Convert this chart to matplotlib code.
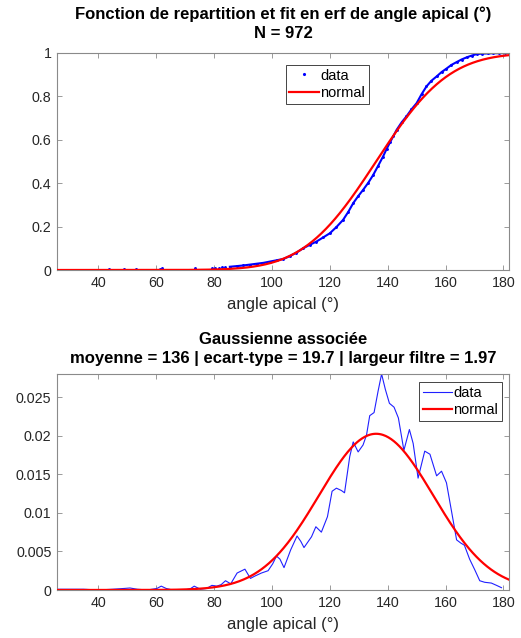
import math
import numpy as np
import matplotlib
matplotlib.use("Agg")
import matplotlib.pyplot as plt
from matplotlib.lines import Line2D

plt.rcParams['font.family'] = ['Liberation Sans', 'DejaVu Sans']

# ---- data ----
N = 972
mu = 136.0
sigma = 19.7
filter_width = 1.97

cdf_angle = [26.0, 31.5, 43.6, 48.9, 53.0, 61.4, 62.2, 73.5, 79.3, 80.5, 81.6, 82.8, 83.8,
             85.5, 87.9, 90.2, 92.5, 94.8, 97.1, 99.4, 101.7, 104.0, 106.2, 108.5, 110.8,
             113.1, 115.4, 117.7, 120.0, 122.3, 124.6, 126.4, 128.1, 129.8, 131.5, 133.3,
             135.0, 136.7, 138.4, 139.6, 140.8, 142.0, 143.1, 144.8, 146.5, 148.2, 150.0,
             151.7, 153.4, 155.1, 156.9, 158.6, 160.3, 162.0, 163.8, 165.5, 167.3, 169.0,
             170.7, 172.5, 174.5, 176.5, 178.5, 180.5]
cdf_value = [0.001, 0.002, 0.003, 0.004, 0.005, 0.006, 0.007, 0.008, 0.009, 0.010, 0.011, 0.012, 0.013,
             0.015, 0.018, 0.021, 0.025, 0.029, 0.033, 0.039, 0.045, 0.051, 0.064, 0.080, 0.100,
             0.116, 0.131, 0.150, 0.169, 0.198, 0.231, 0.268, 0.308, 0.340, 0.369, 0.402,
             0.438, 0.480, 0.523, 0.557, 0.588, 0.618, 0.646, 0.680, 0.708, 0.740, 0.769,
             0.810, 0.846, 0.872, 0.892, 0.912, 0.928, 0.945, 0.958, 0.970, 0.980, 0.988,
             0.995, 0.997, 0.998, 0.999, 0.999, 1.000]
cdf_sparse_count = 13   # isolated low-tail samples (drawn as lone dots)

dens_angle = [25.8, 30.0, 35.0, 40.0, 45.0, 49.0, 51.0, 53.5, 57.0, 60.3, 61.8, 63.5, 65.7, 70.0,
              72.0, 73.2, 75.3, 77.5, 79.3, 81.0, 82.5, 84.0, 85.8, 88.0, 90.7, 92.6, 94.1,
              96.4, 98.7, 100.3, 101.6, 102.8, 104.2, 106.5, 108.7, 110.0, 111.1, 113.7,
              115.2, 117.1, 119.2, 120.8, 122.3, 124.0, 125.1, 126.9, 128.1, 129.8, 131.5,
              132.7, 133.8, 135.3, 136.7, 137.9, 139.2, 140.6, 142.2, 143.7, 145.6, 147.5,
              148.8, 150.5, 152.8, 154.6, 156.9, 158.6, 160.3, 162.1, 163.8, 165.2, 166.5,
              168.3, 170.1, 171.8, 173.5, 175.8, 177.6, 179.3]
dens_value = [0.0001, 0.0001, 0.0001, 0.0000, 0.0001, 0.0002, 0.00026, 0.0001, 0.0000, 0.0002,
              0.0005, 0.0002, 0.0000, 0.0000, 0.0002, 0.0005, 0.0001, 0.0002, 0.0006, 0.0005,
              0.0007, 0.0012, 0.0008, 0.0022, 0.0027, 0.0015, 0.0018, 0.0022, 0.0025, 0.0034,
              0.0044, 0.0040, 0.0029, 0.0052, 0.0070, 0.0063, 0.0055, 0.0069, 0.0082, 0.0075,
              0.0095, 0.0128, 0.0132, 0.0129, 0.0126, 0.0173, 0.0192, 0.0179, 0.0188, 0.0201,
              0.0226, 0.0230, 0.0258, 0.0280, 0.0260, 0.0242, 0.0237, 0.0223, 0.0181, 0.0208,
              0.0190, 0.0145, 0.0180, 0.0176, 0.0148, 0.0154, 0.0139, 0.0101, 0.0065, 0.0061,
              0.0058, 0.0040, 0.0026, 0.0012, 0.0010, 0.0009, 0.0006, 0.0003]

x_limits = (25.8, 181.9)
x_ticks = [40, 60, 80, 100, 120, 140, 160, 180]
cdf_ticks = [0, 0.2, 0.4, 0.6, 0.8, 1]
cdf_ticklabels = ['0', '0.2', '0.4', '0.6', '0.8', '1']
dens_ticks = [0, 0.005, 0.01, 0.015, 0.02, 0.025]
dens_ticklabels = ['0', '0.005', '0.01', '0.015', '0.02', '0.025']

title_top = "Fonction de repartition et fit en erf de angle apical (°)\nN = %d" % N
title_bot = ("Gaussienne associée\nmoyenne = %g | ecart-type = %g | largeur filtre = %g"
             % (mu, sigma, filter_width))
xlabel = "angle apical (°)"

# ---- fitted normal model ----
xs = np.linspace(x_limits[0], x_limits[1], 500)
norm_cdf = np.array([0.5 * (1 + math.erf((v - mu) / (sigma * math.sqrt(2)))) for v in xs])
norm_pdf = np.exp(-0.5 * ((xs - mu) / sigma) ** 2) / (sigma * math.sqrt(2 * math.pi))

W, H = 521, 638
fig = plt.figure(figsize=(W / 100, H / 100), dpi=100)
ax1 = fig.add_axes([57 / W, 1 - 270 / H, 452 / W, 217 / H])
ax2 = fig.add_axes([57 / W, 1 - 590 / H, 452 / W, 216 / H])

frame_col = '#8a8a8a'
tick_col = '#262626'


def style(ax):
    for s in ax.spines.values():
        s.set_color(frame_col)
        s.set_linewidth(0.8)
    ax.tick_params(direction='in', length=3.5, width=0.6, color=frame_col,
                   labelcolor=tick_col, labelsize=10.3, top=True, right=True, pad=4)
    ax.set_xlim(*x_limits)
    ax.set_xticks(x_ticks)
    ax.set_xlabel(xlabel, fontsize=12, color=tick_col, labelpad=5)


# top: CDF
ax1.plot(cdf_angle[cdf_sparse_count:], cdf_value[cdf_sparse_count:], '-',
         color='#0000ff', lw=1.5, zorder=2)
ax1.plot(cdf_angle, cdf_value, '.', color='#0000ff', ms=2.2, zorder=2)
ax1.plot(xs, norm_cdf, '-', color='#ff0000', lw=1.6, zorder=3)
style(ax1)
ax1.set_ylim(0, 1)
ax1.set_yticks(cdf_ticks)
ax1.set_yticklabels(cdf_ticklabels)
ax1.set_title(title_top, fontsize=12, fontweight='bold', pad=11, linespacing=1.3)
h1 = [Line2D([], [], ls='none', marker='.', ms=2.5, color='#0000ff'),
      Line2D([], [], color='#ff0000', lw=1.6)]
leg_kw = dict(fontsize=10.5, frameon=True, fancybox=False, framealpha=1,
              edgecolor='#262626', borderpad=0.25, labelspacing=0.25,
              handlelength=2.0, handletextpad=0.1, borderaxespad=0)
leg1 = ax1.legend(h1, ['data', 'normal'], loc='upper left',
                  bbox_to_anchor=(0.506, 0.945), **leg_kw)
leg1.get_frame().set_linewidth(0.6)

# bottom: density
ax2.plot(dens_angle, dens_value, '-', color='#2020ff', lw=0.8, zorder=2)
ax2.plot(xs, norm_pdf, '-', color='#ff0000', lw=1.6, zorder=3)
style(ax2)
ax2.set_ylim(0, max(dens_value))
ax2.set_yticks(dens_ticks)
ax2.set_yticklabels(dens_ticklabels)
ax2.set_title(title_bot, fontsize=12, fontweight='bold', pad=8, linespacing=1.3)
h2 = [Line2D([], [], color='#2020ff', lw=0.8),
      Line2D([], [], color='#ff0000', lw=1.6)]
leg2 = ax2.legend(h2, ['data', 'normal'], loc='upper right',
                  bbox_to_anchor=(0.984, 0.962), **leg_kw)
leg2.get_frame().set_linewidth(0.6)

fig.savefig('out.png', dpi=100, facecolor='white')
